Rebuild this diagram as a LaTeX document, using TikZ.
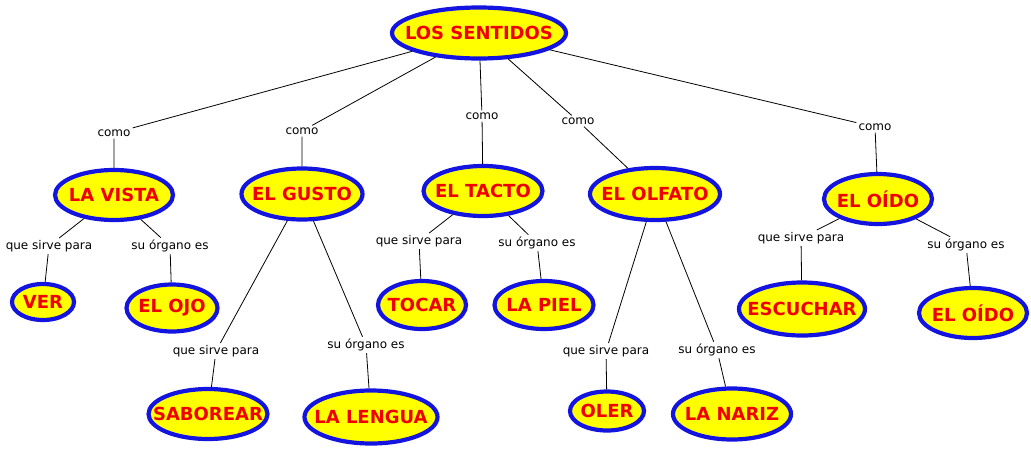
\documentclass[tikz,border=0pt]{standalone}
\usepackage{fontspec}
\setmainfont{DejaVu Sans}
\usetikzlibrary{shapes.geometric}
\definecolor{cborder}{RGB}{20,20,225}
\definecolor{cfill}{RGB}{255,255,0}
\definecolor{ctext}{RGB}{240,0,0}
\tikzset{
  concept/.style={ellipse, draw=cborder, line width=4.2pt, fill=cfill, inner sep=0pt},
  concepttext/.style={inner sep=0pt, text=ctext, font=\fontsize{18}{20}\selectfont\bfseries},
  linklabel/.style={inner sep=2pt, font=\fontsize{12}{14}\selectfont, text=black},
  conn/.style={draw=black, line width=0.8pt}
}
\newcommand{\cpt}[6]{%
  \node[concept, minimum width=#4pt-4pt, minimum height=#5pt-4pt] (#1) at (#2,#3) {};
  \node[concepttext] (#1-t) at (#1.center) {#6};}
\begin{document}
\begin{tikzpicture}[x=1pt,y=-1pt]
\useasboundingbox (0,0) rectangle (1031,448);
\cpt{root}{479}{33}{178}{55}{LOS SENTIDOS}
\cpt{vista}{114}{195}{122}{54}{LA VISTA}
\cpt{gusto}{302}{194}{125}{55}{EL GUSTO}
\cpt{tacto}{483}{191}{123}{54}{EL TACTO}
\cpt{olfato}{655}{194}{134}{56}{EL OLFATO}
\cpt{oido}{878}{199}{112}{54}{EL OÍDO}
\cpt{ver}{43}{302}{66}{40}{VER}
\cpt{ojo}{172}{308}{95}{51}{EL OJO}
\cpt{saborear}{208}{414}{123}{54}{SABOREAR}
\cpt{lengua}{371}{417}{137}{57}{LA LENGUA}
\cpt{tocar}{422}{305}{92}{52}{TOCAR}
\cpt{piel}{544}{305}{103}{52}{LA PIEL}
\cpt{oler}{607}{411}{78}{43}{OLER}
\cpt{nariz}{732}{414}{122}{55}{LA NARIZ}
\cpt{escuchar}{802}{309}{130}{57}{ESCUCHAR}
\cpt{oido2}{973}{313}{112}{54}{EL OÍDO}

\node[linklabel] (c1) at (114,133) {como};
\node[linklabel] (c2) at (302,131) {como};
\node[linklabel] (c3) at (482,116) {como};
\node[linklabel] (c4) at (578,121) {como};
\node[linklabel] (c5) at (875,127) {como};

\node[linklabel] (v1) at (49,246) {que sirve para};
\node[linklabel] (v2) at (170,246) {su órgano es};
\node[linklabel] (g1) at (216,351) {que sirve para};
\node[linklabel] (g2) at (366,345) {su órgano es};
\node[linklabel] (t1) at (419,241) {que sirve para};
\node[linklabel] (t2) at (537,243) {su órgano es};
\node[linklabel] (o1) at (606,351) {que sirve para};
\node[linklabel] (o2) at (717,350) {su órgano es};
\node[linklabel] (d1) at (801,238) {que sirve para};
\node[linklabel] (d2) at (966,245) {su órgano es};

\path[conn] (root) -- (c1) -- (vista);
\path[conn] (root) -- (c2) -- (gusto);
\path[conn] (root) -- (c3) -- (tacto);
\path[conn] (root) -- (c4) -- (olfato);
\path[conn] (root) -- (c5) -- (oido);
\path[conn] (vista) -- (v1) -- (ver);
\path[conn] (vista) -- (v2) -- (ojo);
\path[conn] (gusto) -- (g1) -- (saborear);
\path[conn] (gusto) -- (g2) -- (lengua);
\path[conn] (tacto) -- (t1) -- (tocar);
\path[conn] (tacto) -- (t2) -- (piel);
\path[conn] (olfato) -- (o1) -- (oler);
\path[conn] (olfato) -- (o2) -- (nariz);
\path[conn] (oido) -- (d1) -- (escuchar);
\path[conn] (oido) -- (d2) -- (oido2);
\end{tikzpicture}
\end{document}
